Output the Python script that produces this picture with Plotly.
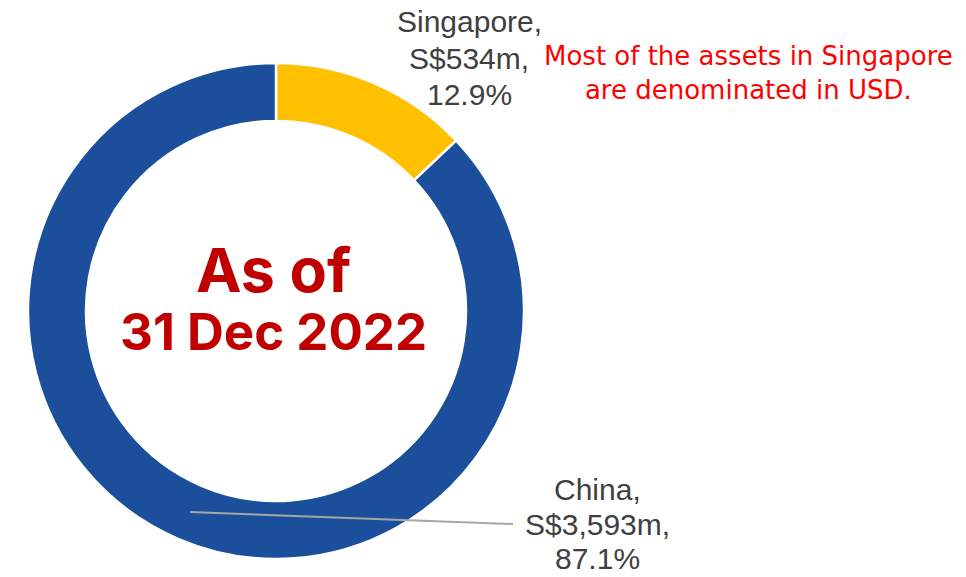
import plotly.graph_objects as go

W, H = 966, 577

regions = ["Singapore", "China"]
amounts_m = [534, 3593]
shares_pct = [12.9, 87.1]
colors = ["#FFC000", "#1B4F9C"]

center_lines = ["As of", "31 Dec 2022"]
note_text = "Most of the assets in Singapore<br>are denominated in USD."

def px(x):
    return x / W

def py(y):
    return 1 - y / H

fig = go.Figure(
    go.Pie(
        labels=regions,
        values=amounts_m,
        hole=0.766,
        sort=False,
        direction="clockwise",
        rotation=0,
        marker=dict(colors=colors, line=dict(color="white", width=2.5)),
        textinfo="none",
        hoverinfo="label+value+percent",
        showlegend=False,
        domain=dict(x=[px(28), px(524)], y=[py(559), py(63)]),
    )
)

label_font = dict(family="Liberation Sans, Arial", size=30, color="#404040")

def label_lines(i):
    return [f"{regions[i]},", f"S${amounts_m[i]:,}m,", f"{shares_pct[i]}%"]

label_pos = [
    (469, [21, 58, 95]),
    (597, [489, 524, 558]),
]

annotations = []
for i, (cx, ys) in enumerate(label_pos):
    for line, yy in zip(label_lines(i), ys):
        annotations.append(dict(x=px(cx), y=py(yy), text=line, showarrow=False,
                                xanchor="center", yanchor="middle", font=label_font))
# keep the last China line's box inside the page
annotations[-1].update(y=0, yanchor="bottom")

annotations += [
    dict(x=px(748), y=py(73), text=note_text, showarrow=False,
         xanchor="center", yanchor="middle", align="center",
         font=dict(family="DejaVu Sans", size=26, color="#FF0000")),
    dict(x=px(273), y=py(270), text=f"<b>{center_lines[0]}</b>", showarrow=False,
         xanchor="center", yanchor="middle",
         font=dict(family="Inter", size=61, color="#C00000")),
    dict(x=px(273), y=py(331), text=f"<b>{center_lines[1]}</b>", showarrow=False,
         xanchor="center", yanchor="middle",
         font=dict(family="Inter", size=51, color="#C00000")),
]

shapes = [
    dict(type="line", xref="paper", yref="paper",
         x0=px(190), y0=py(512), x1=px(513), y1=py(524),
         line=dict(color="#A6A6A6", width=2)),
]

fig.update_layout(
    width=W, height=H,
    margin=dict(l=0, r=0, t=0, b=0),
    paper_bgcolor="white", plot_bgcolor="white",
    annotations=annotations, shapes=shapes,
)

fig.write_html("out.html", config={"displayModeBar": False},
               post_script="document.body.style.margin='0';")
